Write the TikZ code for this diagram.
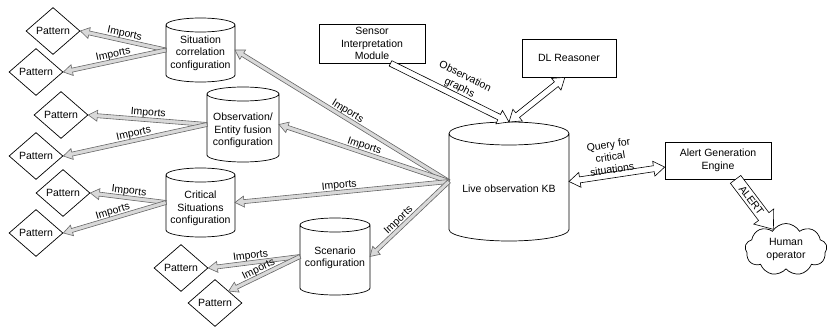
\documentclass[tikz,border=0pt]{standalone}
\usepackage{fontspec}
\setmainfont{Liberation Sans}
\usetikzlibrary{calc,shapes.geometric,shapes.symbols}

\newcommand{\flexarr}[6][]{%
  \path (#2) coordinate (fa-s) (#3) coordinate (fa-e);
  \path ($(fa-e)!#6!(fa-s)$) coordinate (fa-h);
  \filldraw[#1] ($(fa-s)!#4!90:(fa-e)$) -- ($(fa-h)!#4!-90:(fa-s)$) -- ($(fa-h)!#5!-90:(fa-s)$)
    -- (fa-e) -- ($(fa-h)!#5!90:(fa-s)$) -- ($(fa-h)!#4!90:(fa-s)$) -- ($(fa-s)!#4!-90:(fa-e)$) -- cycle;
}
\newcommand{\flexdbl}[6][]{%
  \path (#2) coordinate (fa-s) (#3) coordinate (fa-e);
  \path ($(fa-e)!#6!(fa-s)$) coordinate (fa-h) ($(fa-s)!#6!(fa-e)$) coordinate (fa-t);
  \filldraw[#1] (fa-s) -- ($(fa-t)!#5!90:(fa-e)$) -- ($(fa-t)!#4!90:(fa-e)$)
    -- ($(fa-h)!#4!-90:(fa-s)$) -- ($(fa-h)!#5!-90:(fa-s)$) -- (fa-e)
    -- ($(fa-h)!#5!90:(fa-s)$) -- ($(fa-h)!#4!90:(fa-s)$)
    -- ($(fa-t)!#4!-90:(fa-e)$) -- ($(fa-t)!#5!-90:(fa-e)$) -- cycle;
}
\newcommand{\cylshape}[2]{%
  \draw[cylline] let \p1=(#1.north west), \p2=(#1.south east), \n1={0.5*(\x2-\x1)} in
    (\x1,\y1-#2) -- (\x1,\y2+#2) arc[start angle=180, end angle=360, x radius=\n1, y radius=#2] -- (\x2,\y1-#2)
    (\x1+\n1,\y1-#2) ellipse[x radius=\n1, y radius=#2];
}

\begin{document}
\begin{tikzpicture}[x=1pt,y=1pt,
  every node/.style={font=\fontsize{10.5}{12.5}\selectfont},
  pat/.style={diamond, draw, line width=0.7pt, inner sep=0pt, aspect=1.15, minimum width=54pt, minimum height=47pt},
  rbox/.style={rectangle, draw, line width=0.7pt, inner sep=0pt, align=center},
  cylbox/.style={rectangle, inner sep=0pt, outer sep=0pt},
  ctext/.style={align=center, inner sep=0pt},
  cylline/.style={line width=0.7pt},
  graya/.style={fill=black!15, draw=black!60, line width=0.6pt},
  whitea/.style={fill=white, draw=black, line width=0.6pt},
  lbl/.style={inner sep=1.5pt, align=center}]
\useasboundingbox (0,0) rectangle (828,-331);

% patterns
\node[pat] (p1) at (53,-31) {Pattern};
\node[pat] (p2) at (36,-72) {Pattern};
\node[pat] (p3) at (61,-115) {Pattern};
\node[pat] (p4) at (36,-156) {Pattern};
\node[pat] (p5) at (63,-193) {Pattern};
\node[pat] (p6) at (36,-233) {Pattern};
\node[pat] (p7) at (181,-268) {Pattern};
\node[pat] (p8) at (215,-303) {Pattern};

% cylinders
\node[cylbox, minimum width=69pt, minimum height=64pt, label={[ctext,yshift=-3pt]center:{Situation\\correlation\\configuration}}] (sc) at (200.5,-50) {};
\node[cylbox, minimum width=72pt, minimum height=75pt, label={[ctext,yshift=-6pt]center:{Observation/\\Entity fusion\\configuration}}] (of) at (243,-124.5) {};
\node[cylbox, minimum width=69pt, minimum height=69pt, label={[ctext,yshift=-6pt]center:{Critical\\Situations\\configuration}}] (cs) at (200.5,-202.5) {};
\node[cylbox, minimum width=70pt, minimum height=77pt, label={[ctext,yshift=-1.5pt]center:{Scenario\\configuration}}] (scn) at (335,-256.5) {};
\node[cylbox, minimum width=120pt, minimum height=119pt, label={[ctext,yshift=-7.5pt]center:{Live observation KB}}] (kb) at (509,-181.5) {};
\cylshape{sc}{7pt}
\cylshape{of}{7pt}
\cylshape{cs}{7pt}
\cylshape{scn}{7pt}
\cylshape{kb}{11.5pt}

% boxes
\node[rbox, minimum width=106pt, minimum height=39pt] (sim) at (372,-43.5) {Sensor\\Interpretation\\Module};
\node[rbox, minimum width=94pt, minimum height=38pt] (dl) at (569,-58) {DL Reasoner};
\node[rbox, minimum width=106pt, minimum height=37pt] (age) at (718,-160.5) {Alert Generation\\Engine};
\node[cloud, draw, line width=0.7pt, cloud puffs=9, cloud puff arc=120, aspect=1.5, inner sep=0pt, minimum width=82pt, minimum height=52pt, align=center] (ho) at (786,-249.5) {Human\\operator};

% imports arrows from KB
\flexarr[graya]{kb.west}{sc.east}{2pt}{5.5pt}{9pt}
\flexarr[graya]{kb.west}{of.east}{2pt}{5.5pt}{9pt}
\flexarr[graya]{kb.west}{cs.east}{2pt}{5.5pt}{9pt}
\flexarr[graya]{kb.west}{scn.east}{2pt}{5.5pt}{9pt}

% imports arrows to patterns
\flexarr[graya]{sc.west}{p1.east}{2pt}{5.5pt}{9pt}
\flexarr[graya]{sc.west}{p2.east}{2pt}{5.5pt}{9pt}
\flexarr[graya]{of.west}{p3.east}{2pt}{5.5pt}{9pt}
\flexarr[graya]{of.west}{p4.east}{2pt}{5.5pt}{9pt}
\flexarr[graya]{cs.west}{p5.east}{2pt}{5.5pt}{9pt}
\flexarr[graya]{cs.west}{p6.east}{2pt}{5.5pt}{9pt}
\flexarr[graya]{scn.west}{p7.east}{2pt}{5.5pt}{9pt}
\flexarr[graya]{scn.west}{p8.north east}{2pt}{5.5pt}{9pt}

% white arrows
\flexarr[whitea]{sim.-47}{kb.north}{3pt}{7.5pt}{11pt}
\flexdbl[whitea]{kb.north}{dl.258}{3pt}{7.5pt}{11pt}
\flexdbl[whitea]{kb.east}{age.187}{3pt}{7.5pt}{11pt}
\flexarr[whitea]{age.-47}{ho.122}{6.5pt}{12.5pt}{16pt}

% labels
\path (p1.east) -- node[lbl, sloped, above, pos=.5] {Imports} (sc.west);
\path (p2.east) -- node[lbl, sloped, above, pos=.5] {Imports} (sc.west);
\path (p3.east) -- node[lbl, sloped, above, pos=.5] {Imports} (of.west);
\path (p4.east) -- node[lbl, sloped, above, pos=.5] {Imports} (of.west);
\path (p5.east) -- node[lbl, sloped, above, pos=.5] {Imports} (cs.west);
\path (p6.east) -- node[lbl, sloped, above, pos=.5] {Imports} (cs.west);
\path (p7.east) -- node[lbl, sloped, above, pos=.47] {Imports} (scn.west);
\path (p8.north east) -- node[lbl, sloped, above, pos=.46] {Imports} (scn.west);
\path (sc.east) -- node[lbl, sloped, above, pos=.51] {Imports} (kb.west);
\path (of.east) -- node[lbl, sloped, above, pos=.49] {Imports} (kb.west);
\path (cs.east) -- node[lbl, sloped, above, pos=.49] {Imports} (kb.west);
\path (scn.east) -- node[lbl, sloped, above, pos=.42] {Imports} (kb.west);
\path (sim.-47) -- node[lbl, sloped, above=2pt, pos=.55] {Observation\\graphs} (kb.north);
\path (kb.east) -- node[lbl, sloped, above, pos=.46] {Query for\\critical\\situations} (age.187);
\path (age.-47) -- node[lbl, sloped, pos=.42] {ALERT} (ho.122);
\end{tikzpicture}
\end{document}
